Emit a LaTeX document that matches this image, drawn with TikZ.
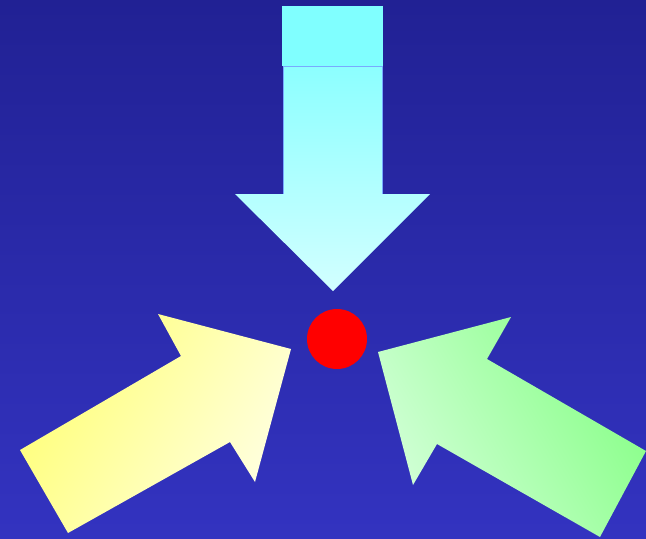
\documentclass[tikz,border=0pt]{standalone}
\usepackage{tikz}

\definecolor{bgtop}{RGB}{33,33,148}
\definecolor{bgbot}{RGB}{51,51,192}
\definecolor{boxcyan}{RGB}{128,255,255}
\definecolor{cyanlight}{RGB}{210,255,255}
\definecolor{cyanmid}{RGB}{140,255,255}
\definecolor{yellowdeep}{RGB}{255,255,120}
\definecolor{yellowpale}{RGB}{255,255,225}
\definecolor{greendeep}{RGB}{136,255,136}
\definecolor{greenpale}{RGB}{210,255,215}
\definecolor{edgeblue}{RGB}{120,170,255}

\begin{document}
\begin{tikzpicture}[x=0.02cm, y=-0.02cm,
    bigarrow/.style={draw=none}]
  % background
  \fill[top color=bgtop, bottom color=bgbot] (0,0) rectangle (646,538);
  \useasboundingbox (0,0) rectangle (646,538);
  % arrow from above
  \path[bigarrow, top color=cyanmid, bottom color=cyanlight]
    (283,66) -- (283,194) -- (235,194) -- (333,291) -- (430,194)
    -- (382,194) -- (382,66) -- cycle;
  \draw[edgeblue, line width=0.4pt] (283,66) -- (283,194);
  \draw[edgeblue, line width=0.4pt] (382,66) -- (382,194);
  \fill[boxcyan] (282,6) rectangle (383,66);
  \draw[edgeblue, line width=0.4pt] (283,66) -- (382,66);
  % arrow from lower left
  \path[bigarrow, left color=yellowdeep, right color=yellowpale, shading angle=60]
    (20,450) -- (68,533) -- (230,442) -- (255,482) -- (291,349)
    -- (158,314) -- (181,356) -- cycle;
  % arrow from lower right
  \path[bigarrow, left color=greenpale, right color=greendeep, shading angle=120]
    (646,451) -- (600,537) -- (437,444) -- (413,485) -- (378,352)
    -- (511,317) -- (487,359) -- cycle;
  % target
  \node[circle, fill=red, minimum size=1.2cm, inner sep=0pt] (dot) at (337,339) {};
\end{tikzpicture}
\end{document}
